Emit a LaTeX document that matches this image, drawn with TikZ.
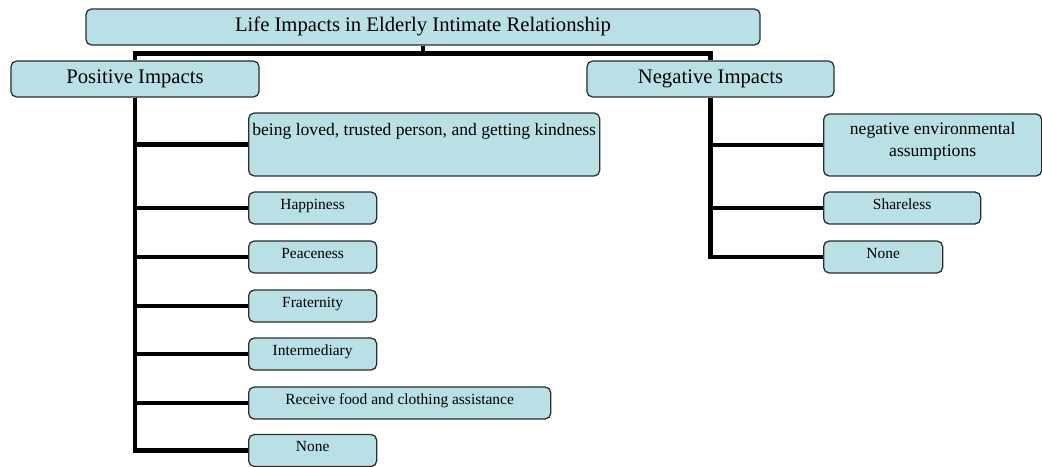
\documentclass[tikz,border=0pt]{standalone}
\usepackage{fontspec}
\setmainfont{Liberation Serif}
\definecolor{boxfill}{RGB}{185,224,228}
\definecolor{boxline}{RGB}{45,45,45}

\begin{document}
\begin{tikzpicture}[x=0.025cm,y=-0.025cm,
    box/.style={draw=boxline,line width=0.9pt,fill=boxfill,rounded corners=4pt,inner sep=2pt},
    headbox/.style={box,minimum height=0.9cm,text height=10pt,text depth=3pt,font=\fontsize{14.7}{17}\selectfont},
    leafbox/.style={box,minimum height=0.8cm,anchor=west,text height=7pt,text depth=5pt,
                    font=\fontsize{11}{13}\selectfont},
    bigleaf/.style={box,anchor=west,font=\fontsize{12.5}{15}\selectfont},
    branch/.style={line width=3.2pt}]
  \useasboundingbox (0,0) rectangle (1042,467);

  \node[headbox,minimum width=16.85cm] (title) at (423,27) {Life Impacts in Elderly Intimate Relationship};
  \node[headbox,minimum width=6.2cm] (pos) at (135,79) {Positive Impacts};
  \node[headbox,minimum width=6.175cm] (neg) at (710.5,79) {Negative Impacts};

  % positive side
  \node[bigleaf,minimum width=8.775cm,minimum height=1.575cm,text height=8pt,text depth=21pt] (loved) at (248,144.5)
       {being loved, trusted person, and getting kindness};
  \node[leafbox,minimum width=3.2cm] (happy) at (248,208) {Happiness};
  \node[leafbox,minimum width=3.2cm] (peace) at (248,257) {Peaceness};
  \node[leafbox,minimum width=3.2cm] (frat) at (248,306) {Fraternity};
  \node[leafbox,minimum width=3.2cm] (inter) at (248,354) {Intermediary};
  \node[leafbox,minimum width=7.55cm] (food) at (248,403) {Receive food and clothing assistance};
  \node[leafbox,minimum width=3.2cm] (pnone) at (248,450.5) {None};

  % negative side
  \node[bigleaf,minimum width=5.45cm,minimum height=1.55cm,align=center,text depth=8pt] (env) at (823,145)
       {negative environmental\\assumptions};
  \node[leafbox,minimum width=3.925cm] (share) at (823,208) {Shareless};
  \node[leafbox,minimum width=2.975cm] (nnone) at (823,257) {None};

  \draw[branch] (title.south) -- ++(0,8) -| (pos.north);
  \draw[branch] (title.south) -- ++(0,8) -| (neg.north);
  \foreach \n in {loved,happy,peace,frat,inter,food,pnone}
    { \draw[branch] (pos.south) |- (\n.west); }
  \foreach \n in {env,share,nnone}
    { \draw[branch] (neg.south) |- (\n.west); }
\end{tikzpicture}
\end{document}
